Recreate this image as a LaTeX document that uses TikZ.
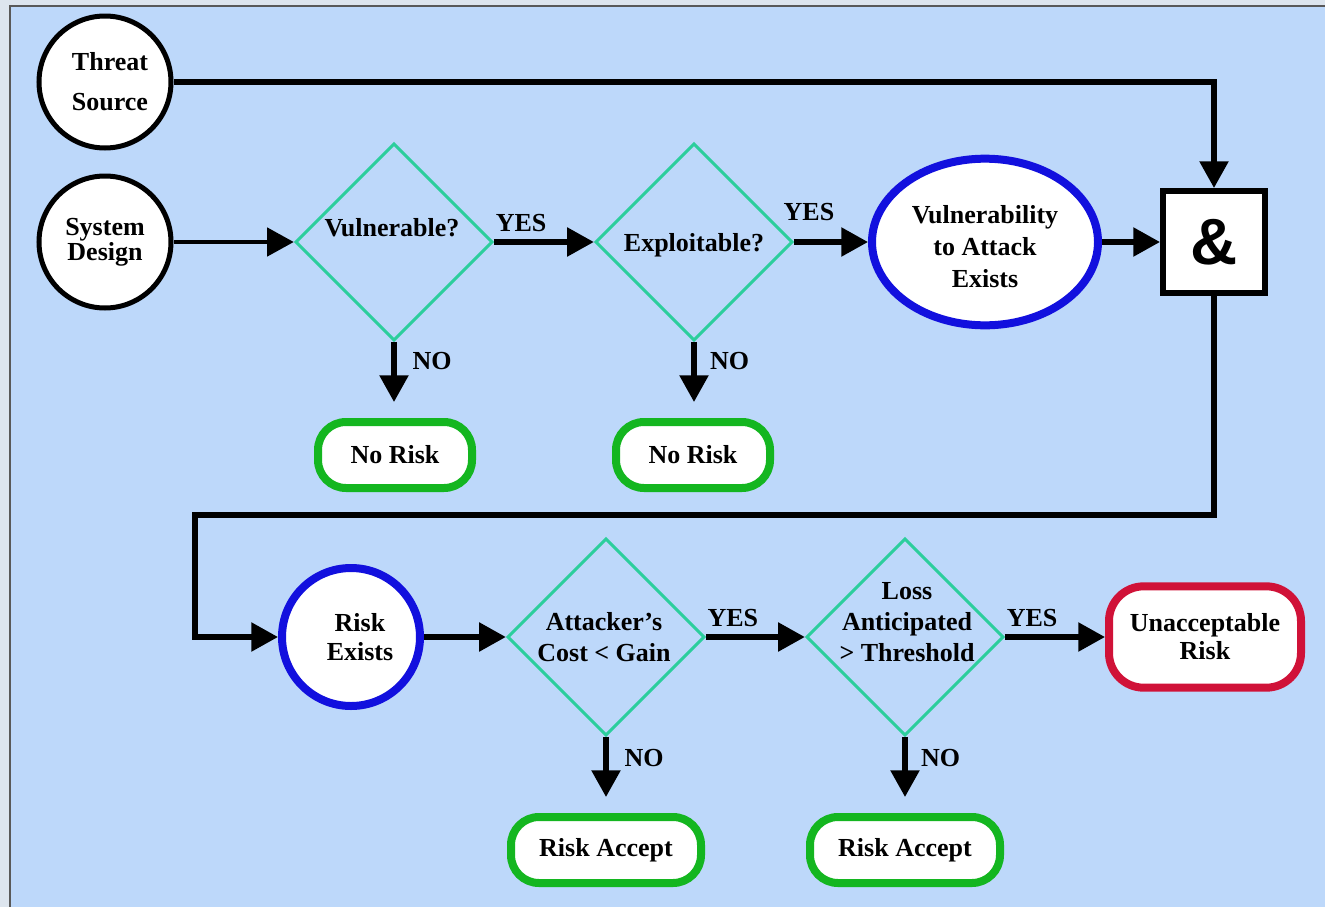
\documentclass[tikz,border=0pt]{standalone}
\usepackage{fontspec}
\setmainfont{Liberation Serif}
\newfontfamily\ampfont{Liberation Sans}
\usetikzlibrary{shapes.geometric,arrows.meta}
\definecolor{outerbg}{RGB}{221,229,238}
\definecolor{bgblue}{RGB}{189,216,250}
\definecolor{decgreen}{RGB}{44,206,156}
\definecolor{okgreen}{RGB}{20,182,32}
\definecolor{vblue}{RGB}{18,16,222}
\definecolor{badred}{RGB}{208,18,56}
\begin{document}
\begin{tikzpicture}[x=0.75pt,y=-0.75pt,
  every node/.style={font=\fontsize{19.5}{23}\selectfont\bfseries, text=black},
  circ/.style={circle, draw=black, line width=3.75pt, fill=white, minimum size=99pt, inner sep=0pt, align=center},
  dec/.style={diamond, draw=decgreen, line width=2.25pt, minimum width=148pt, minimum height=148pt, inner sep=0pt},
  dtext/.style={align=center, inner sep=0pt},
  term/.style={rectangle, rounded corners=21pt, draw=okgreen, line width=6pt, fill=white, minimum height=49.5pt, inner sep=0pt, align=center},
  blueell/.style={ellipse, draw=vblue, line width=6pt, fill=white, inner sep=0pt, align=center},
  conn/.style={draw=black, line width=4pt, -{Triangle[length=20pt,width=21pt]}},
  noarrow/.style={conn, shorten >=12pt},
  lbl/.style={inner sep=0pt}
]
\useasboundingbox (0,0) rectangle (1325,907);
\fill[outerbg] (0,0) rectangle (1325,907);
\filldraw[fill=bgblue, draw=black!65, line width=1.2pt] (10,6) rectangle (1340,920);

% top row
\node[circ] (ts) at (105,82) {};
\node[dtext, font=\fontsize{19.5}{30}\selectfont\bfseries] (tst) at (110,82) {Threat\\Source};
\node[circ, font=\fontsize{19.5}{19}\selectfont\bfseries] (sd) at (105,242) {System\\Design};
\node[dec] (v1) at (394,242) {};
\node[dtext] (v1t) at (392,228) {Vulnerable?};
\node[dec] (v2) at (694,242) {};
\node[dtext] (v2t) at (694,245) {Exploitable?};
\node[blueell, minimum width=169.5pt, minimum height=125pt] (ve) at (985,242) {};
\node[dtext, font=\fontsize{19.5}{24}\selectfont\bfseries] (vet) at (985,247) {Vulnerability\\to Attack\\Exists};
\node[rectangle, draw=black, line width=4.5pt, fill=white, minimum size=76.5pt, inner sep=0pt, font=\ampfont\fontsize{49}{50}\selectfont\bfseries] (amp) at (1214,242) {\&};
\node[term, minimum width=115.5pt] (nr1) at (395,455) {No Risk};
\node[term, minimum width=115.5pt] (nr2) at (693,455) {No Risk};

% bottom row
\node[blueell, circle, minimum size=103.5pt] (re) at (351,637) {};
\node[dtext, font=\fontsize{19.5}{22}\selectfont\bfseries] (ret) at (360,637) {Risk\\Exists};
\node[dec] (d3) at (606,637) {};
\node[dtext] (d3t) at (604,637) {Attacker's\\Cost < Gain};
\node[dec] (d4) at (905,637) {};
\node[dtext] (d4t) at (907,622) {Loss\\Anticipated\\> Threshold};
\node[term, draw=badred, rounded corners=26pt, minimum width=144pt, minimum height=76pt, font=\fontsize{19.5}{21}\selectfont\bfseries] (ur) at (1205,637) {Unacceptable\\Risk};
\node[term, minimum width=142.5pt] (ra1) at (606,850) {Risk Accept};
\node[term, minimum width=142.5pt] (ra2) at (905,850) {Risk Accept};

\coordinate (c2) at (195,515);

% connectors
\draw[conn] (ts) -| (amp);
\draw[conn, line width=3.4pt] (sd) -- (v1);
\draw[conn] (v1) -- node[lbl, pos=0.27, above=6pt] {YES} (v2);
\draw[conn] (v2) -- node[lbl, pos=0.2, above=14pt] {YES} (ve);
\draw[conn] (ve) -- (amp);
\draw[noarrow] (v1.south) -- node[lbl, pos=0.25, right=12pt] {NO} (v1.south |- nr1.north);
\draw[noarrow] (v2.south) -- node[lbl, pos=0.25, right=10pt] {NO} (v2.south |- nr2.north);
\draw[conn] (amp) |- (c2) |- (re);
\draw[conn] (re) -- (d3);
\draw[conn] (d3) -- node[lbl, pos=0.27, above=6pt] {YES} (d4);
\draw[conn] (d4) -- node[lbl, pos=0.27, above=6pt] {YES} (ur);
\draw[noarrow] (d3.south) -- node[lbl, pos=0.28, right=12pt] {NO} (d3.south |- ra1.north);
\draw[noarrow] (d4.south) -- node[lbl, pos=0.28, right=10pt] {NO} (d4.south |- ra2.north);
\end{tikzpicture}
\end{document}
